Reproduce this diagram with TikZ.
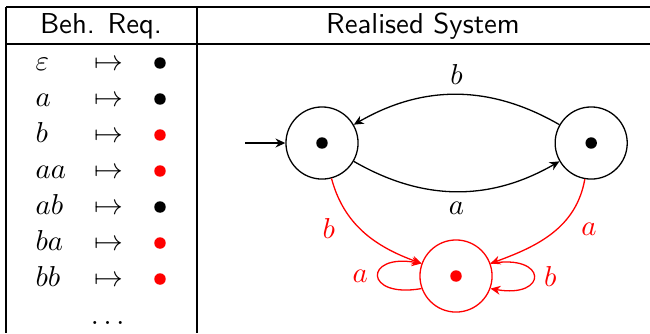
\documentclass[tikz,border=0pt]{standalone}
\usepackage{amsmath}
\usetikzlibrary{arrows.meta,positioning}
\tikzset{
  sys/.style={circle, draw, minimum size=8.8mm, inner sep=0pt, line width=0.45pt},
  pt/.style={circle, fill, inner sep=0pt, minimum size=1.4mm},
  trans/.style={-{Stealth[length=3.4pt, width=3.1pt, inset=1.1pt]}, line width=0.45pt},
  rule/.style={line width=0.7pt},
  head/.style={anchor=base, font=\sffamily},
}

\begin{document}
\begin{tikzpicture}[x=0.0122cm, y=0.0122cm]
  \useasboundingbox (0,0) rectangle (650,333);
  % table
  \draw[rule] (6,326) -- (650,326);
  \draw[rule] (6,289) -- (650,289);
  \draw[rule] (6,326) -- (6,0);
  \draw[rule] (197,326) -- (197,0);
  \node[head] (hreq) at (101,300) {Beh. Req.};
  \node[head] (hsys) at (423,300) {Realised System};
  \foreach \w/\c [count=\i] in {\varepsilon/black, a/black, b/red, aa/red, ab/black, ba/red, bb/red} {
    \node[anchor=base west, inner sep=0pt] (w\i) at (35,{263-36*(\i-1)}) {$\w$};
    \node[anchor=base, inner sep=0pt] (m\i) at (109,{263-36*(\i-1)}) {$\mapsto$};
    \node[pt, \c] (v\i) at (160,{270-36*(\i-1)}) {};
  }
  \node[anchor=base, inner sep=0pt] (more) at (110,9) {$\dots$};

  % system
  \node[sys] (s1) at (322,190) {};
  \node[sys, right=2.39cm of s1] (s2) {};
  \node[sys, draw=red] (s3) at (456,57) {};
  \node[pt] (d1) at (s1.center) {};
  \node[pt] (d2) at (s2.center) {};
  \node[pt, red] (d3) at (s3.center) {};
  \coordinate[left=0.49cm of s1] (init);

  \draw[trans] (init) -- (s1);
  \draw[trans] (s1) to[bend right=30] node[below] (la) {$a$} (s2);
  \draw[trans] (s2) to[bend right=30] node[above] (lb) {$b$} (s1);
  \draw[trans, red] (s1) to[out=-75, in=160] node[pos=0.45, left=5pt] (lrb) {$b$} (s3);
  \draw[trans, red] (s2) to[out=-100, in=20] node[pos=0.45, right=5pt] (lra) {$a$} (s3);
  \draw[trans, red] (s3.200) to[out=190, in=170, looseness=6] node[left] (lla) {$a$} (s3.160);
  \draw[trans, red] (s3.20) to[out=10, in=-10, looseness=6] node[right] (llb) {$b$} (s3.-20);
\end{tikzpicture}
\end{document}
